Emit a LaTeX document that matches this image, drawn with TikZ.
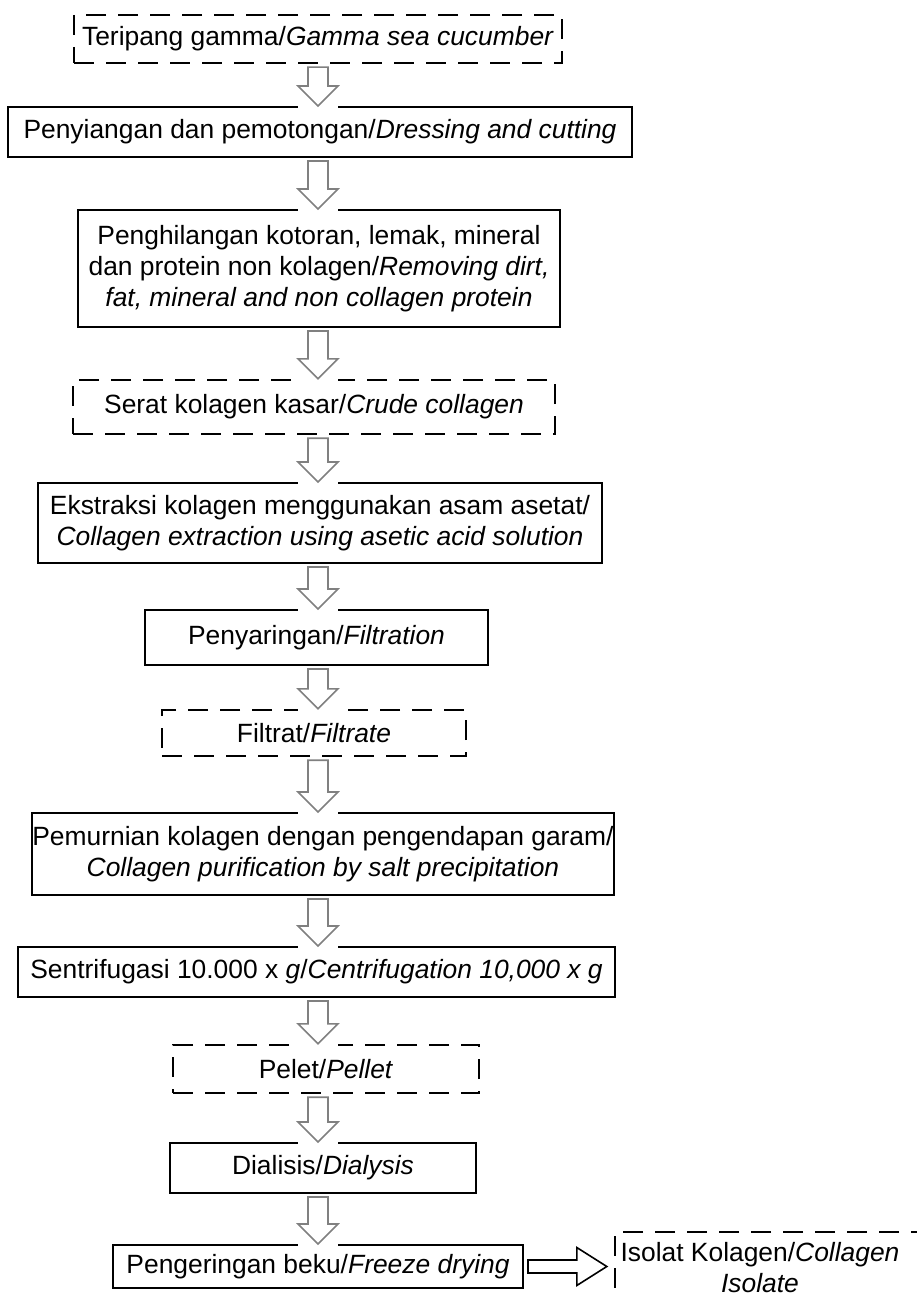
\documentclass[tikz,border=0pt]{standalone}
\usepackage{fontspec}
\setmainfont{Liberation Sans}
\usepackage{tikz}
\usetikzlibrary{calc}
\tikzset{
    x = 0.5pt, y = -0.5pt,                                  % Work in pixels of the page, y going down
    procbox/.style = {draw, line width=1pt, inner sep=0pt,  % Process steps in solid boxes
                      align=center, fill=white},
    matbox/.style  = {draw, line width=1.2pt, inner sep=0pt,% Materials in dashed boxes
                      dash pattern=on 10pt off 6pt, align=center},
    flowarrow/.style = {draw=gray, line width=0.8pt, fill=white},  % Hollow gray arrows
    outarrow/.style  = {draw=black, line width=0.8pt, fill=white},  % Hollow black arrow
    every node/.style = {font=\fontsize{13.2pt}{15.5pt}\selectfont}
}
% Hollow block arrow from the bottom of #1 to the top of #2
\newcommand{\proarrow}[2]{%
    \fill[white] ($(#2.north -| axis)+(-20,-2)$) rectangle ($(#2.north -| axis)+(20,2)$);
    \draw[flowarrow] ($(#1.south -| axis)+(-10,3)$) -- ($(#2.north -| axis)+(-10,-20)$)
        -- ($(#2.north -| axis)+(-20,-20)$) -- (#2.north -| axis)
        -- ($(#2.north -| axis)+(20,-20)$) -- ($(#2.north -| axis)+(10,-20)$)
        -- ($(#1.south -| axis)+(10,3)$) -- cycle;
}

\begin{document}
\begin{tikzpicture}
    \useasboundingbox (0,0) rectangle (916,1300);
    \coordinate (axis) at (318,0);

    % Define nodes
    \node [matbox, minimum width=244pt, minimum height=24pt] (teripang) at (318,39)
        {Teripang gamma/\textit{Gamma sea cucumber}};
    \node [procbox, minimum width=312pt, minimum height=25pt] (siang) at (320,132)
        {Penyiangan dan pemotongan/\textit{Dressing and cutting}};
    \node [procbox, minimum width=241pt, minimum height=58.5pt] (hilang) at (319,268.5)
        {Penghilangan kotoran, lemak, mineral\\
         dan protein non kolagen/\textit{Removing dirt,}\\
         \textit{fat, mineral and non collagen protein}};
    \node [matbox, minimum width=241pt, minimum height=27pt] (serat) at (314,407)
        {Serat kolagen kasar/\textit{Crude collagen}};
    \node [procbox, minimum width=282pt, minimum height=40pt] (ekstrak) at (320,523)
        {Ekstraksi kolagen menggunakan asam asetat/\\
         \textit{Collagen extraction using asetic acid solution}};
    \node [procbox, minimum width=171.5pt, minimum height=27.5pt] (saring) at (316.5,637.5)
        {Penyaringan/\textit{Filtration}};
    \node [matbox, minimum width=152pt, minimum height=23pt] (filtrat) at (314,733)
        {Filtrat/\textit{Filtrate}};
    \node [procbox, minimum width=283pt, minimum height=41pt] (murni) at (323,854)
        {Pemurnian kolagen dengan pengendapan garam/\\
         \textit{Collagen purification by salt precipitation}};
    \node [procbox, minimum width=298.5pt, minimum height=25pt] (sentri) at (316.5,972)
        {Sentrifugasi 10.000 x \textit{g}/\textit{Centrifugation 10,000 x g}};
    \node [matbox, minimum width=153pt, minimum height=24pt] (pelet) at (326,1069)
        {Pelet/\textit{Pellet}};
    \node [procbox, minimum width=153pt, minimum height=25pt] (dialisis) at (323,1168)
        {Dialisis/\textit{Dialysis}};
    \node [procbox, minimum width=205pt, minimum height=21.5pt] (beku) at (318,1266.5)
        {Pengeringan beku/\textit{Freeze drying}};
    \node [matbox, minimum width=155pt, minimum height=40pt] (isolat) at (770,1272) {};
    \node [align=center, inner sep=0pt] (isolattext) at (760,1268)
        {Isolat Kolagen/\textit{Collagen}\\ \textit{Isolate}};

    % Draw arrows
    \proarrow{teripang}{siang}
    \proarrow{siang}{hilang}
    \proarrow{hilang}{serat}
    \proarrow{serat}{ekstrak}
    \proarrow{ekstrak}{saring}
    \proarrow{saring}{filtrat}
    \proarrow{filtrat}{murni}
    \proarrow{murni}{sentri}
    \proarrow{sentri}{pelet}
    \proarrow{pelet}{dialisis}
    \proarrow{dialisis}{beku}
    \coordinate (tip) at ($(isolat.west |- beku.east)+(-7,0)$);
    \draw[outarrow] ($(beku.east)+(4,-6.5)$) -- ($(tip)+(-30,-6.5)$)
        -- ($(tip)+(-30,-19)$) -- (tip) -- ($(tip)+(-30,19)$)
        -- ($(tip)+(-30,6.5)$) -- ($(beku.east)+(4,6.5)$) -- cycle;
\end{tikzpicture}
\end{document}
